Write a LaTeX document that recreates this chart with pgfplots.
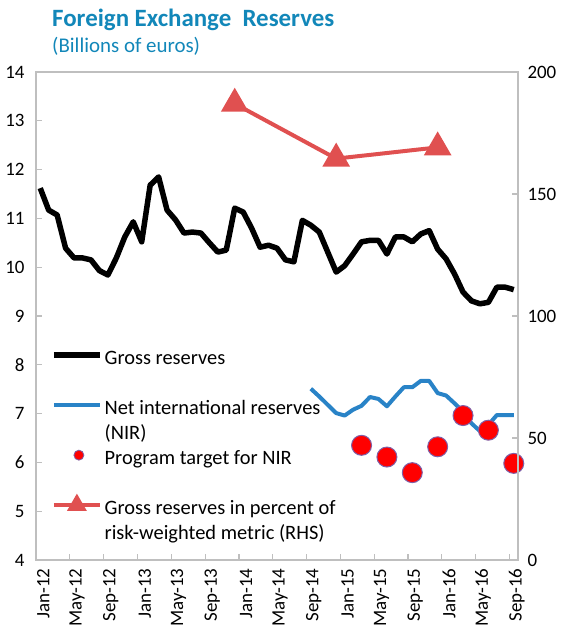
\documentclass[border=0pt]{standalone}
\usepackage{pgfplots}
\pgfplotsset{compat=1.18}
\usetikzlibrary{calc}
\usepackage{fontspec}
\setmainfont{Carlito}

\definecolor{axgray}{RGB}{191,191,191}
\definecolor{titleblue}{RGB}{18,135,185}
\definecolor{nirblue}{RGB}{41,131,199}
\definecolor{rhsred}{RGB}{224,80,80}
\definecolor{dotedge}{RGB}{126,96,168}

\pgfplotsset{
  base/.style={
    scale only axis, width=482bp, height=488bp,
    xmin=-0.5, xmax=56.5,
    axis line style={draw=axgray, line width=1.5bp},
    tick style={draw=axgray, line width=1.2bp},
    tick align=inside,
    major tick length=6bp,
    minor tick length=6bp,
    tick label style={font=\fontsize{19}{23}\selectfont},
    /pgf/number format/assume math mode=true,
  },
  leglong/.style={legend image code/.code={\draw[##1] (0bp,0bp) -- (46bp,0bp);}},
  legmark/.style={legend image code/.code={\draw[mark repeat=2,mark phase=2,##1] plot coordinates {(0bp,0bp)(23bp,0bp)(46bp,0bp)};}},
  legdot/.style={legend image code/.code={\draw[##1] plot coordinates {(25bp,0bp)};}},
}

\begin{document}
\begin{tikzpicture}
\begin{axis}[base, name=ax,
  ymin=4, ymax=14, ytick={4,...,14},
  ytick pos=left, xtick pos=bottom,
  xtick={0,4,...,56},
  xticklabels={Jan-12,May-12,Sep-12,Jan-13,May-13,Sep-13,Jan-14,May-14,Sep-14,Jan-15,May-15,Sep-15,Jan-16,May-16,Sep-16},
  major x tick style={draw=none},
  minor xtick={3.5,7.5,...,55.5},
  xticklabel style={xshift=3bp, rotate=90, anchor=east},
  xticklabel shift=5bp,
  yticklabel style={xshift=-8bp},
]
% gross reserves, Jan-12 .. Sep-16
\addplot[black, line width=5.5bp, line join=round, forget plot] coordinates {
(0,11.62)(1,11.17)(2,11.07)(3,10.39)(4,10.19)(5,10.19)(6,10.15)(7,9.93)(8,9.84)(9,10.19)
(10,10.62)(11,10.93)(12,10.52)(13,11.68)(14,11.85)(15,11.17)(16,10.97)(17,10.70)(18,10.72)(19,10.70)
(20,10.50)(21,10.31)(22,10.35)(23,11.21)(24,11.13)(25,10.80)(26,10.41)(27,10.45)(28,10.39)(29,10.15)
(30,10.11)(31,10.96)(32,10.86)(33,10.72)(34,10.31)(35,9.90)(36,10.03)(37,10.27)(38,10.52)(39,10.55)
(40,10.55)(41,10.27)(42,10.62)(43,10.62)(44,10.52)(45,10.68)(46,10.75)(47,10.37)(48,10.17)(49,9.86)
(50,9.49)(51,9.31)(52,9.25)(53,9.28)(54,9.59)(55,9.59)(56,9.54)
};
% NIR
\addplot[nirblue, line width=4bp, line join=round, forget plot] coordinates {
(32,7.51)(33,7.35)(34,7.18)(35,7.01)(36,6.96)(37,7.08)(38,7.16)(39,7.34)(40,7.30)(41,7.15)
(42,7.35)(43,7.54)(44,7.54)(45,7.67)(46,7.67)(47,7.42)(48,7.37)(49,7.21)(50,7.04)(51,6.80)
(52,6.64)(53,6.77)(54,6.97)(55,6.97)(56,6.97)
};
% program targets
\addplot[only marks, mark=*, mark size=10bp, mark options={fill=red, draw=dotedge, line width=1bp}, forget plot] coordinates {
(38,6.35)(41,6.11)(44,5.79)(47,6.32)(50,6.96)(53,6.66)(56,5.98)
};
\end{axis}

\begin{axis}[base,
  axis y line*=right, axis x line=none,
  ymin=0, ymax=200, ytick={0,50,...,200},
  yticklabel style={xshift=6bp},
  legend style={draw=none, fill=none, inner sep=0pt, at={(0.031,0.4458)}, anchor=north west,
    font=\fontsize{20.5}{25}\selectfont, row sep=0pt,
    nodes={inner sep=0pt, inner xsep=2bp, text height=21.5bp, text depth=3.5bp}},
  legend cell align=left,
]
% legend rows; blank rows give the gaps of the original
\addlegendimage{black, line width=5.5bp, leglong}
\addlegendentry{Gross reserves}
\addlegendimage{empty legend}
\addlegendentry{\phantom{x}}
\addlegendimage{nirblue, line width=4bp, leglong}
\addlegendentry{Net international reserves}
\addlegendimage{empty legend}
\addlegendentry{(NIR)}
\addlegendimage{mark=*, mark size=5bp, mark options={fill=red, draw=dotedge, line width=0.8bp}, legdot}
\addlegendentry{Program target for NIR}
\addlegendimage{empty legend}
\addlegendentry{\phantom{x}}
\addlegendimage{rhsred, line width=4bp, mark=triangle*, mark size=7.5bp, mark options={solid}, legmark}
\addlegendentry{Gross reserves in percent of}
\addlegendimage{empty legend}
\addlegendentry{risk-weighted metric (RHS)}

\addplot[rhsred, line width=4bp, mark=triangle*, mark size=12bp, mark options={solid}, forget plot] coordinates {
(23,187.0)(35,164.5)(47,169.1)
};
\end{axis}

\node[anchor=base west, inner sep=0, text=titleblue, font=\bfseries\fontsize{25}{30}\selectfont]
  at ($(ax.north west)+(16bp,45bp)$) {Foreign Exchange\ \ Reserves};
\node[anchor=base west, inner sep=0, text=titleblue, font=\fontsize{21}{25}\selectfont]
  at ($(ax.north west)+(16bp,19bp)$) {(Billions of euros)};

\pgfresetboundingbox
\path[use as bounding box] ($(ax.south west)+(-36bp,-66bp)$) rectangle ($(ax.north east)+(50bp,72bp)$);
\end{tikzpicture}
\end{document}
